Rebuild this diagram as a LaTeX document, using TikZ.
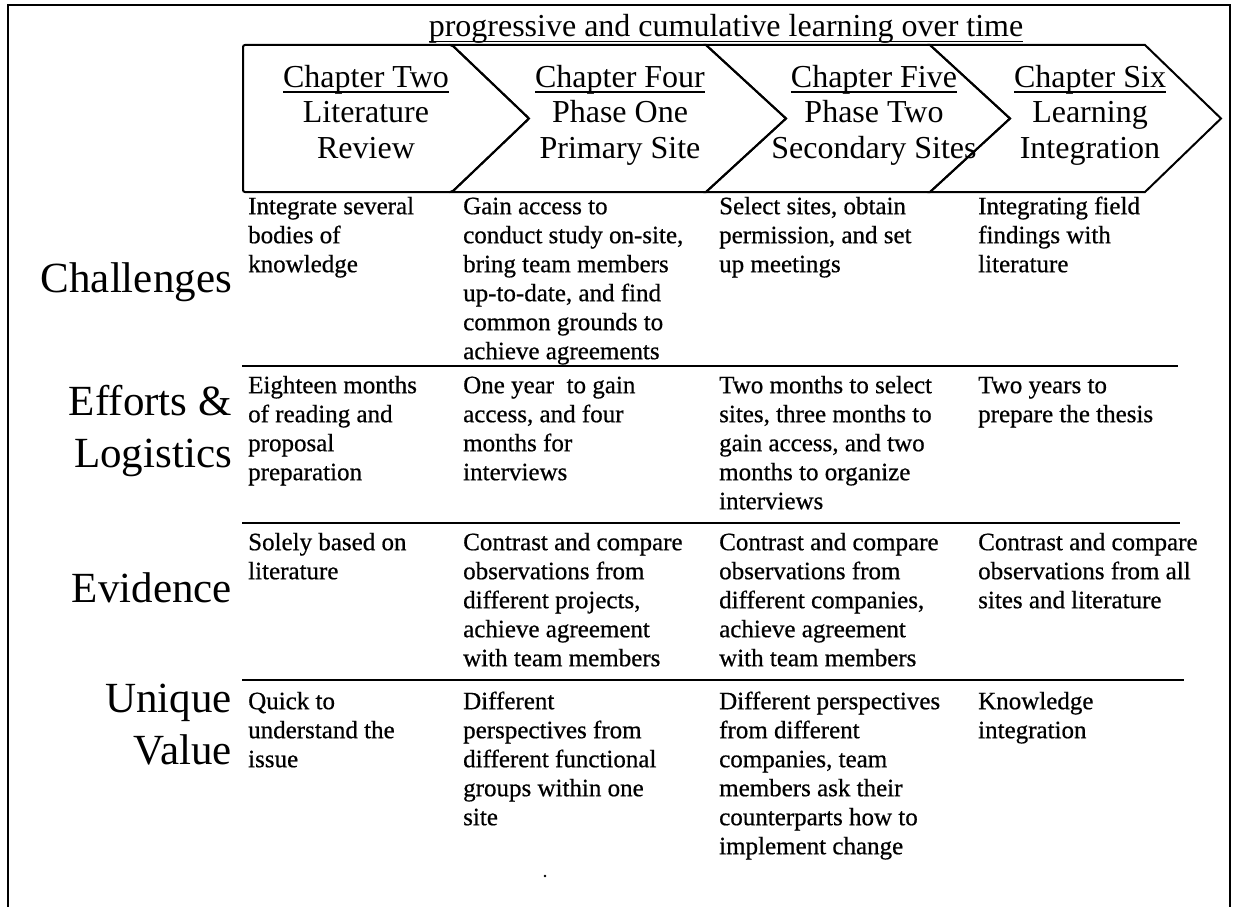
\documentclass[tikz,border=0pt]{standalone}
\usepackage{fontspec}
\setmainfont{Liberation Serif}
\newfontfamily\bodyfont{Liberation Serif}[FakeBold=0.6]
\newcommand{\wordul}[1]{\setbox0\hbox{#1}\rlap{\rule[-0.17em]{\wd0}{0.06em}}\box0}
\begin{document}
\begin{tikzpicture}[x=1pt,y=-1pt]
\tikzset{
  frameline/.style={line width=2pt},
  chev/.style={line width=2pt, line join=miter},
  sepline/.style={line width=2.6pt},
  chtext/.style={font=\fontsize{32}{35.5}\selectfont, align=center, anchor=north, inner sep=0pt},
  cell/.style={font=\bodyfont\fontsize{25}{29}\selectfont, align=left, anchor=north west, inner sep=0pt},
  rowlab/.style={font=\fontsize{43}{52}\selectfont, align=right, anchor=north east, inner sep=0pt},
}
\useasboundingbox (0,0) rectangle (1234,907);
% frame
\draw[frameline] (8,930) -- (8,5) -- (1230,5) -- (1230,930);
% title
\node[font=\fontsize{32}{35.5}\selectfont, anchor=base, inner sep=0pt] (title) at (726,37)
  {\wordul{progressive and cumulative learning over time}};
% chevrons
\draw[chev, rounded corners=2pt] (243,45) -- (452,45) -- (529,118.5) -- (452,192) -- (243,192) -- cycle;
\draw[chev] (452,45) -- (706,45) -- (786,118.5) -- (706,192) -- (452,192) -- (529,118.5) -- cycle;
\draw[chev] (706,45) -- (930,45) -- (1010,118.5) -- (930,192) -- (706,192) -- (786,118.5) -- cycle;
\draw[chev] (930,45) -- (1145,45) -- (1221,118.5) -- (1145,192) -- (930,192) -- (1010,118.5) -- cycle;
\node[chtext] (c1) at (366,62.15) {\strut\wordul{Chapter Two}\\Literature\\Review};
\node[chtext] (c2) at (620,62.15) {\strut\wordul{Chapter Four}\\Phase One\\Primary Site};
\node[chtext] (c3) at (874,62.15) {\strut\wordul{Chapter Five}\\Phase Two\\Secondary Sites};
\node[chtext] (c4) at (1090,62.15) {\strut\wordul{Chapter Six}\\Learning\\Integration};
% row labels
\node[rowlab] (lab1) at (232,255.6) {\strut Challenges};
\node[rowlab] (lab2) at (232,378.6) {\strut Efforts \&\\Logistics};
\node[rowlab] (lab3) at (232,565.6) {\strut Evidence};
\node[rowlab] (lab4) at (232,675.6) {\strut Unique\\Value};
% separators
\coordinate (s1a) at (242,366); \coordinate (s1b) at (1178,366);
\coordinate (s2a) at (242,523); \coordinate (s2b) at (1180,523);
\coordinate (s3a) at (242,680); \coordinate (s3b) at (1184,680);
\draw[sepline] (s1a) -- (s1b);
\draw[sepline] (s2a) -- (s2b);
\draw[sepline] (s3a) -- (s3b);
% row 1
\node[cell] (r1c1) at (248,193.7) {\strut Integrate several\\bodies of\\knowledge};
\node[cell] (r1c2) at (463,193.7) {\strut Gain access to\\conduct study on-site,\\bring team members\\up-to-date, and find\\common grounds to\\achieve agreements};
\node[cell] (r1c3) at (719,193.7) {\strut Select sites, obtain\\permission, and set\\up meetings};
\node[cell] (r1c4) at (978,193.7) {\strut Integrating field\\findings with\\literature};
% row 2
\node[cell] (r2c1) at (248,372.7) {\strut Eighteen months\\of reading and\\proposal\\preparation};
\node[cell] (r2c2) at (463,372.7) {\strut One year\ \ to gain\\access, and four\\months for\\interviews};
\node[cell] (r2c3) at (719,372.7) {\strut Two months to select\\sites, three months to\\gain access, and two\\months to organize\\interviews};
\node[cell] (r2c4) at (978,372.7) {\strut Two years to\\prepare the thesis};
% row 3
\node[cell] (r3c1) at (248,529.7) {\strut Solely based on\\literature};
\node[cell] (r3c2) at (463,529.7) {\strut Contrast and compare\\observations from\\different projects,\\achieve agreement\\with team members};
\node[cell] (r3c3) at (719,529.7) {\strut Contrast and compare\\observations from\\different companies,\\achieve agreement\\with team members};
\node[cell] (r3c4) at (978,529.7) {\strut Contrast and compare\\observations from all\\sites and literature};
% row 4
\node[cell] (r4c1) at (248,688.7) {\strut Quick to\\understand the\\issue};
\node[cell] (r4c2) at (463,688.7) {\strut Different\\perspectives from\\different functional\\groups within one\\site};
\node[cell] (r4c3) at (719,688.7) {\strut Different perspectives\\from different\\companies, team\\members ask their\\counterparts how to\\implement change};
\node[cell] (r4c4) at (978,688.7) {\strut Knowledge\\integration};
% stray dot
\fill (545,876) circle (1.3);
\end{tikzpicture}
\end{document}
